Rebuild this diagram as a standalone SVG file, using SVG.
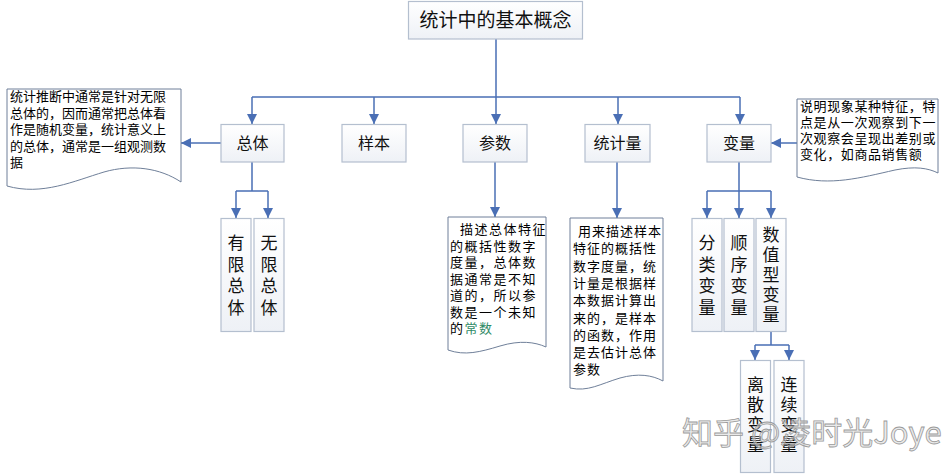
<svg xmlns="http://www.w3.org/2000/svg" width="942" height="474" viewBox="0 0 942 474">
<style>
.box{fill:url(#g);stroke:#b4bfcf;stroke-width:1.2}
.note{fill:#fff;stroke:#6f7f99;stroke-width:1}
.t{font-family:"Noto Sans CJK SC","Noto Sans",sans-serif;fill:#111}
.lbl{font-size:16px;text-anchor:middle}
.v{font-size:17px;text-anchor:middle}
.n{font-size:13px;fill:#000}
.c{fill:none;stroke:#4a6fb5;stroke-width:1.5}
.wm{font-family:"Noto Sans CJK SC","Noto Sans",sans-serif;font-size:31px;fill:#d8d8d8;fill-opacity:0.55;stroke:#9a9a9a;stroke-width:0.8}
</style>
<defs>
<linearGradient id="g" x1="0" y1="0" x2="0" y2="1"><stop offset="0" stop-color="#ffffff"/><stop offset="1" stop-color="#eef1f6"/></linearGradient>
<marker id="a" markerUnits="userSpaceOnUse" markerWidth="11" markerHeight="10" refX="10" refY="5" orient="auto"><path d="M0,0 L10,5 L0,10 z" fill="#4a6fb5"/></marker>
</defs>
<rect width="942" height="474" fill="#fff"/>

<g id="connectors">
<path class="c" d="M496,39 V97 M252,97 H740"/>
<path class="c" marker-end="url(#a)" d="M252,97 V124"/>
<path class="c" marker-end="url(#a)" d="M374,97 V124"/>
<path class="c" marker-end="url(#a)" d="M496,97 V124"/>
<path class="c" marker-end="url(#a)" d="M618,97 V124"/>
<path class="c" marker-end="url(#a)" d="M740,97 V124"/>
<path class="c" marker-end="url(#a)" d="M221,143 H181"/>
<path class="c" marker-end="url(#a)" d="M797,143 H771"/>
<path class="c" marker-end="url(#a)" d="M495,162 V217"/>
<path class="c" marker-end="url(#a)" d="M617,162 V218"/>
<path class="c" d="M252,162 V191 M236,191 H268"/>
<path class="c" marker-end="url(#a)" d="M236,191 V218"/>
<path class="c" marker-end="url(#a)" d="M268,191 V218"/>
<path class="c" d="M739,162 V191 M707,191 H771"/>
<path class="c" marker-end="url(#a)" d="M707,191 V218"/>
<path class="c" marker-end="url(#a)" d="M739,191 V218"/>
<path class="c" marker-end="url(#a)" d="M771,191 V218"/>
<path class="c" d="M771,332 V345 M755,345 H789"/>
<path class="c" marker-end="url(#a)" d="M755,345 V360"/>
<path class="c" marker-end="url(#a)" d="M789,345 V360"/>
</g>

<g id="root"><rect class="box" x="408.5" y="1.5" width="174" height="37.5"/><text class="t" x="495.5" y="27" font-size="19" text-anchor="middle">统计中的基本概念</text></g>

<g id="n-zongti"><rect class="box" x="221" y="124.5" width="63" height="37.5"/><text class="t lbl" x="252.5" y="149">总体</text></g>
<g id="n-yangben"><rect class="box" x="342" y="124.5" width="64" height="37.5"/><text class="t lbl" x="374" y="149">样本</text></g>
<g id="n-canshu"><rect class="box" x="463" y="124.5" width="64" height="37.5"/><text class="t lbl" x="495" y="149">参数</text></g>
<g id="n-tongjiliang"><rect class="box" x="585" y="124.5" width="65" height="37.5"/><text class="t lbl" x="617.5" y="149">统计量</text></g>
<g id="n-bianliang"><rect class="box" x="707" y="124.5" width="64" height="37.5"/><text class="t lbl" x="739" y="149">变量</text></g>

<g id="note-zongti"><path class="note" d="M7,89 H181 V182 C160,168 132,164 104,172 C74,181 42,196 7,186 Z"/>
<text class="t n"><tspan x="10" y="101">统计推断中通常是针对无限</tspan><tspan x="10" y="117.5">总体的，因而通常把总体看</tspan><tspan x="10" y="134">作是随机变量，统计意义上</tspan><tspan x="10" y="150.5">的总体，通常是一组观测数</tspan><tspan x="10" y="167">据</tspan></text></g>

<g id="note-canshu"><path class="note" d="M448,217 H546 V347 C535,342 520,340 500,346 C480,352 465,356 448,350 Z"/>
<text class="t n" letter-spacing="1.5"><tspan x="460" y="234">描述总体特征</tspan><tspan x="450" y="250.5">的概括性数字</tspan><tspan x="450" y="267">度量，总体数</tspan><tspan x="450" y="283.5">据通常是不知</tspan><tspan x="450" y="300">道的，所以参</tspan><tspan x="450" y="316.5">数是一个未知</tspan><tspan x="450" y="333">的<tspan fill="#2f8a66">常数</tspan></tspan></text></g>

<g id="note-tongjiliang"><path class="note" d="M570,218 H663 V381 C652,375 638,373 620,378 C600,384 588,392 570,388 Z"/>
<text class="t n" letter-spacing="1"><tspan x="578" y="236">用来描述样本</tspan><tspan x="573" y="253.3">特征的概括性</tspan><tspan x="573" y="270.6">数字度量，统</tspan><tspan x="573" y="287.9">计量是根据样</tspan><tspan x="573" y="305.2">本数据计算出</tspan><tspan x="573" y="322.5">来的，是样本</tspan><tspan x="573" y="339.8">的函数，作用</tspan><tspan x="573" y="357.1">是去估计总体</tspan><tspan x="573" y="374.4">参数</tspan></text></g>

<g id="note-bianliang"><path class="note" d="M797,99 H938 V173 C928,168 915,166 895,170 C860,178 830,186 797,177 Z"/>
<text class="t n" letter-spacing="0.6"><tspan x="800" y="111">说明现象某种特征，特</tspan><tspan x="800" y="127">点是从一次观察到下一</tspan><tspan x="800" y="143">次观察会呈现出差别或</tspan><tspan x="800" y="159">变化，如商品销售额</tspan></text></g>

<g id="n-youxian"><rect class="box" x="221" y="218.5" width="30" height="113"/><text class="t v"><tspan x="236" y="249">有</tspan><tspan x="236" y="270.5">限</tspan><tspan x="236" y="292">总</tspan><tspan x="236" y="313.5">体</tspan></text></g>
<g id="n-wuxian"><rect class="box" x="254" y="218.5" width="30" height="113"/><text class="t v"><tspan x="269" y="249">无</tspan><tspan x="269" y="270.5">限</tspan><tspan x="269" y="292">总</tspan><tspan x="269" y="313.5">体</tspan></text></g>

<g id="n-fenlei"><rect class="box" x="692" y="218.5" width="30" height="113"/><text class="t v"><tspan x="707" y="249">分</tspan><tspan x="707" y="270.5">类</tspan><tspan x="707" y="292">变</tspan><tspan x="707" y="313.5">量</tspan></text></g>
<g id="n-shunxu"><rect class="box" x="724" y="218.5" width="30" height="113"/><text class="t v"><tspan x="739" y="249">顺</tspan><tspan x="739" y="270.5">序</tspan><tspan x="739" y="292">变</tspan><tspan x="739" y="313.5">量</tspan></text></g>
<g id="n-shuzhi"><rect class="box" x="756" y="218.5" width="30" height="113"/><text class="t v"><tspan x="771" y="241">数</tspan><tspan x="771" y="261">值</tspan><tspan x="771" y="281">型</tspan><tspan x="771" y="301">变</tspan><tspan x="771" y="321">量</tspan></text></g>

<g id="n-lisan"><rect class="box" x="740.5" y="360.5" width="30" height="112"/><text class="t v"><tspan x="755.5" y="391">离</tspan><tspan x="755.5" y="411">散</tspan><tspan x="755.5" y="431">变</tspan><tspan x="755.5" y="451">量</tspan></text></g>
<g id="n-lianxu"><rect class="box" x="774" y="360.5" width="30" height="112"/><text class="t v"><tspan x="789" y="391">连</tspan><tspan x="789" y="411">续</tspan><tspan x="789" y="431">变</tspan><tspan x="789" y="451">量</tspan></text></g>

<text class="wm" x="682" y="444">知乎 @凌时光Joye</text>
</svg>
